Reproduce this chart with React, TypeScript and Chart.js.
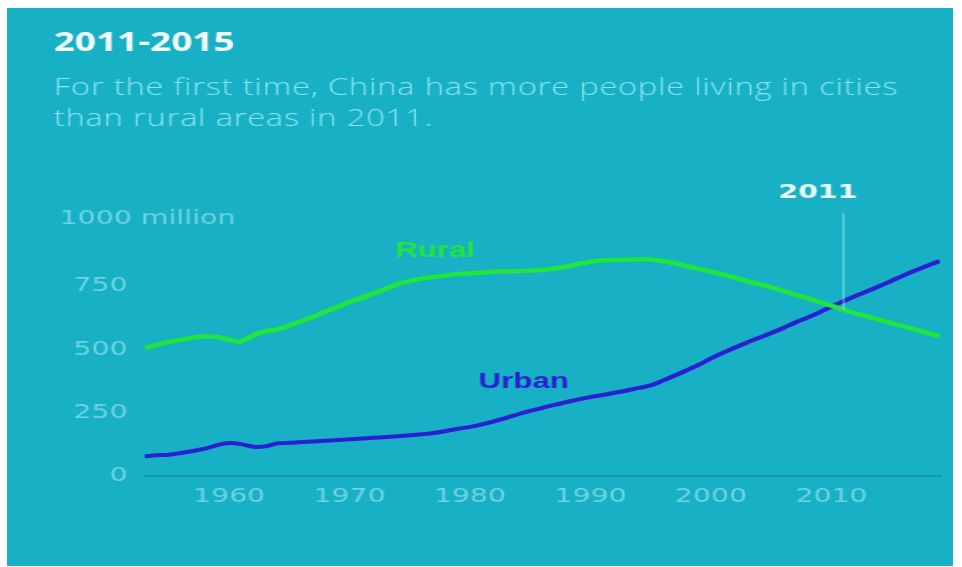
import { useEffect, useRef } from "react";
import { Chart, registerables } from "chart.js";

Chart.register(...registerables);

const years = [
  1953, 1954, 1955, 1956, 1957, 1958, 1959, 1960, 1961, 1962,
  1963, 1964, 1965, 1966, 1967, 1968, 1969, 1970, 1971, 1972,
  1973, 1974, 1975, 1976, 1977, 1978, 1979, 1980, 1981, 1982,
  1983, 1984, 1985, 1986, 1987, 1988, 1989, 1990, 1991, 1992,
  1993, 1994, 1995, 1996, 1997, 1998, 1999, 2000, 2001, 2002,
  2003, 2004, 2005, 2006, 2007, 2008, 2009, 2010, 2011, 2012,
  2013, 2014, 2015, 2016, 2017, 2018, 2019,
];

const rural = [
  506, 518, 530, 538, 547, 551, 550, 538, 532, 556,
  572, 580, 595, 612, 630, 650, 668, 688, 704, 722,
  740, 758, 770, 780, 787, 793, 798, 801, 804, 807,
  809, 810, 811, 815, 820, 828, 838, 847, 852, 854,
  855, 856, 856, 850, 841, 830, 818, 808, 796, 783,
  770, 758, 745, 731, 716, 703, 688, 673, 657, 643,
  630, 617, 604, 591, 578, 565, 553,
];

const urban = [
  78, 82, 84, 91, 99, 108, 122, 130, 126, 116,
  117, 129, 131, 134, 136, 139, 142, 145, 148, 151,
  154, 157, 161, 165, 170, 178, 187, 194, 204, 216,
  230, 244, 257, 269, 281, 292, 303, 312, 320, 329,
  338, 348, 358, 377, 397, 418, 440, 465, 487, 508,
  528, 546, 565, 585, 607, 626, 647, 670, 691, 712,
  731, 751, 772, 793, 813, 832, 850,
];

const xTicks = [1960, 1970, 1980, 1990, 2000, 2010];
const yTicks = [0, 250, 500, 750, 1000];
const yUnitLabel = "1000 million";
const titleText = "2011-2015";
const subtitleLines = [
  "For the first time, China has more people living in cities",
  "than rural areas in 2011.",
];
const seriesNames = ["Rural", "Urban"];
const markerYear = 2011;
const markerLabel = "2011";
// label anchors in data units: [year, value]
const ruralLabelAt = [1973.8, 867];
const urbanLabelAt = [1980.7, 347];

const STRETCH = 1.42;
const OUTER_W = 946;
const OUTER_H = 558;
const INNER_W = Math.round(OUTER_W / STRETCH);

const TEAL = "#18b0c4";
const GREEN = "#20e63c";
const BLUE = "#2a20d2";
const TICK = "#6ed4e3";

export default function App() {
  const ref = useRef<HTMLCanvasElement | null>(null);

  useEffect(() => {
    if (!ref.current) return;
    const decor = {
      id: "decor",
      afterDraw(chart: any) {
        const ctx = chart.ctx;
        const xs = chart.scales.x;
        const ys = chart.scales.y;
        const area = chart.chartArea;
        ctx.save();
        // title
        ctx.textAlign = "left";
        ctx.textBaseline = "alphabetic";
        ctx.fillStyle = "#f6fcfd";
        ctx.font = "700 26px 'Open Sans'";
        ctx.fillText(titleText, 33, 42.5);
        // subtitle
        ctx.fillStyle = "#8ae5f0";
        ctx.font = "300 23px 'Open Sans'";
        (ctx as any).letterSpacing = "0.55px";
        ctx.fillText(subtitleLines[0], 33, 87);
        ctx.fillText(subtitleLines[1], 33, 118);
        (ctx as any).letterSpacing = "0px";
        // y unit label
        ctx.fillStyle = TICK;
        ctx.font = "20px 'DejaVu Sans'";
        ctx.textBaseline = "middle";
        ctx.fillText(yUnitLabel, 37, ys.getPixelForValue(1000) - 4);
        // marker line
        const mi = years.indexOf(markerYear);
        const mx = xs.getPixelForValue(markerYear);
        ctx.strokeStyle = "rgba(215,245,250,0.6)";
        ctx.lineWidth = 1;
        ctx.beginPath();
        ctx.moveTo(mx, area.top - 10);
        ctx.lineTo(mx, ys.getPixelForValue(Math.min(rural[mi], urban[mi])));
        ctx.stroke();
        ctx.fillStyle = "#eefbfd";
        ctx.font = "700 20px 'DejaVu Sans'";
        ctx.textAlign = "center";
        ctx.textBaseline = "alphabetic";
        ctx.fillText(markerLabel, mx - 18, area.top - 25);
        // series labels
        ctx.textAlign = "left";
        ctx.font = "700 22px 'Liberation Sans'";
        ctx.fillStyle = GREEN;
        ctx.fillText(seriesNames[0], xs.getPixelForValue(ruralLabelAt[0]), ys.getPixelForValue(ruralLabelAt[1]));
        ctx.fillStyle = BLUE;
        ctx.fillText(seriesNames[1], xs.getPixelForValue(urbanLabelAt[0]), ys.getPixelForValue(urbanLabelAt[1]));
        ctx.restore();
      },
    };

    const chart = new Chart(ref.current, {
      type: "line",
      data: {
        datasets: [
          {
            label: seriesNames[0],
            data: years.map((y, i) => ({ x: y, y: rural[i] })),
            borderColor: GREEN,
            borderWidth: 4.5,
            pointRadius: 0,
            tension: 0.3,
            fill: false,
          },
          {
            label: seriesNames[1],
            data: years.map((y, i) => ({ x: y, y: urban[i] })),
            borderColor: BLUE,
            borderWidth: 4,
            pointRadius: 0,
            tension: 0.3,
            fill: false,
          },
        ],
      },
      options: {
        responsive: false,
        animation: false,
        layout: { padding: { top: 215, right: 9, left: 0, bottom: 0 } },
        plugins: { legend: { display: false }, tooltip: { enabled: false } },
        scales: {
          x: {
            type: "linear",
            min: years[0],
            max: years[years.length - 1],
            afterBuildTicks: (s: any) => {
              s.ticks = xTicks.map((v) => ({ value: v }));
            },
            afterFit: (s: any) => {
              s.height = 90;
            },
            grid: { display: false, drawTicks: false },
            border: { display: true, color: "#1598a9", width: 2 },
            ticks: {
              color: TICK,
              padding: 9,
              maxRotation: 0,
              font: { family: "'DejaVu Sans'", size: 20 },
              callback: (v: any) => String(v),
            },
          },
          y: {
            min: 0,
            max: 1000,
            afterBuildTicks: (s: any) => {
              s.ticks = yTicks.map((v) => ({ value: v }));
            },
            afterFit: (s: any) => {
              s.width = 97;
            },
            grid: { display: false, drawTicks: false },
            border: { display: false },
            ticks: {
              color: TICK,
              padding: 12,
              font: { family: "'DejaVu Sans'", size: 20 },
              callback: (v: any) => (v === 1000 ? "" : String(v)),
            },
          },
        },
      },
      plugins: [decor],
    });
    return () => chart.destroy();
  }, []);

  return (
    <div
      style={{
        position: "absolute",
        left: 7,
        top: 8,
        width: OUTER_W,
        height: OUTER_H,
        background: TEAL,
        overflow: "hidden",
      }}
    >
      <canvas
        ref={ref}
        width={INNER_W}
        height={OUTER_H}
        style={{
          position: "absolute",
          left: 0,
          top: 0,
          transform: `scaleX(${STRETCH})`,
          transformOrigin: "0 0",
        }}
      />
    </div>
  );
}
